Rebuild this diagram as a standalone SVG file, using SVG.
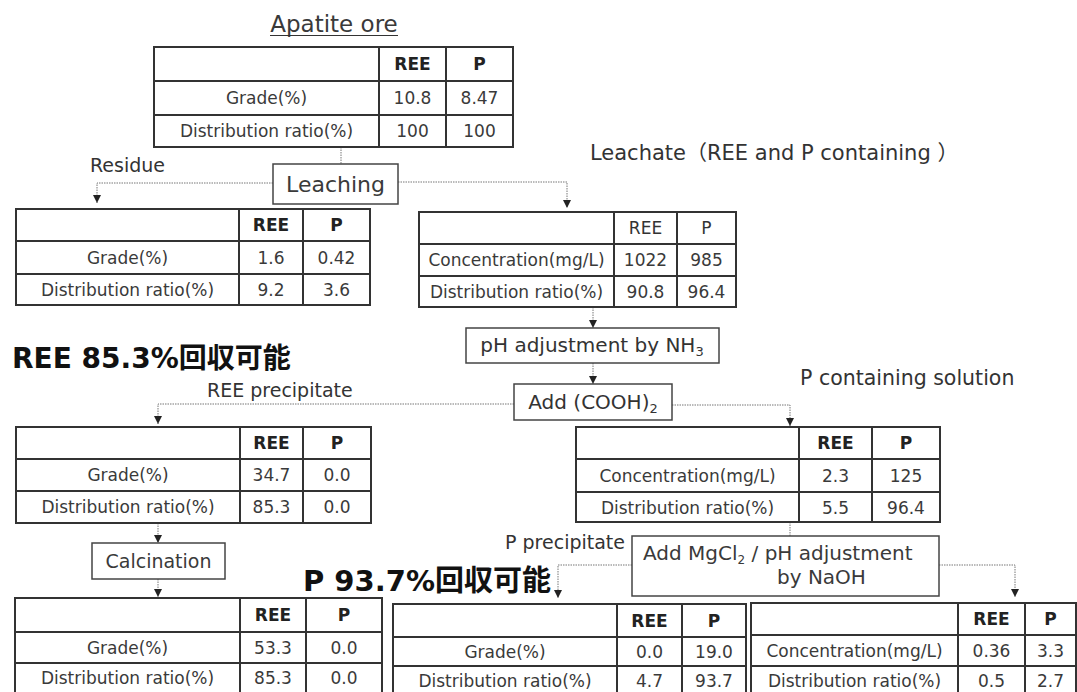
<svg xmlns="http://www.w3.org/2000/svg" width="1077" height="692" viewBox="0 0 1077 692">
<style>
text{font-family:"DejaVu Sans","Noto Sans CJK JP",sans-serif;fill:#3a3a3a}
.c{font-size:17px;text-anchor:middle}
.h{font-size:17px;text-anchor:middle;font-weight:bold;fill:#222}
.hn{font-size:17px;text-anchor:middle;fill:#333}
.g{fill:#fff;stroke:#333;stroke-width:2}
.gl{stroke:#333;stroke-width:2;fill:none}
.box{fill:#fff;stroke:#444;stroke-width:1.5}
.bt{font-size:20px;text-anchor:middle;fill:#333}
.lb{font-size:19px;fill:#333}
.big{font-size:29px;font-weight:bold;fill:#111}
.con{fill:none;stroke:#777;stroke-width:1;stroke-dasharray:1.5 1}
</style>
<defs>
<marker id="ah" markerUnits="userSpaceOnUse" markerWidth="8" markerHeight="8" refX="8" refY="4" orient="auto">
<path d="M0,0 L8,4 L0,8 z" fill="#222"/>
</marker>
</defs>

<g id="connectors">
<path class="con" d="M341,147 V164"/>
<path class="con" d="M273,183 H97 V203" marker-end="url(#ah)"/>
<path class="con" d="M398,182 H567 V208" marker-end="url(#ah)"/>
<path class="con" d="M593,307 V328" marker-end="url(#ah)"/>
<path class="con" d="M593,363 V384" marker-end="url(#ah)"/>
<path class="con" d="M514,404 H158 V424" marker-end="url(#ah)"/>
<path class="con" d="M672,405 H790 V426" marker-end="url(#ah)"/>
<path class="con" d="M158,523 V543" marker-end="url(#ah)"/>
<path class="con" d="M158,579 V597" marker-end="url(#ah)"/>
<path class="con" d="M790,522 V536"/>
<path class="con" d="M632,565 H558 V598" marker-end="url(#ah)"/>
<path class="con" d="M939,565 H1015 V597" marker-end="url(#ah)"/>
</g>

<g id="labels">
<text x="334" y="32" font-size="23" text-anchor="middle" fill="#333">Apatite ore</text>
<line x1="270" y1="35.5" x2="398" y2="35.5" stroke="#333" stroke-width="1.2"/>
<text class="lb" x="90" y="172">Residue</text>
<text class="lb" x="590" y="160" style="font-size:21px">Leachate（REE and P containing ）</text>
<text class="big" x="12" y="368" style="font-size:28px">REE 85.3%回収可能</text>
<text class="lb" x="207" y="397">REE precipitate</text>
<text class="lb" x="800" y="385" style="font-size:20.5px">P containing solution</text>
<text class="lb" x="625" y="549" text-anchor="end">P precipitate</text>
<text class="big" x="303" y="591">P 93.7%回収可能</text>
</g>

<g id="apatite-table">
<rect class="g" x="154" y="47" width="359" height="100"/>
<path class="gl" d="M154,81 H513 M154,115 H513 M379,47 V147 M446,47 V147"/>
<text class="h" x="412.5" y="70">REE</text><text class="h" x="479.5" y="70">P</text>
<text class="c" x="266.5" y="104">Grade(%)</text><text class="c" x="412.5" y="104">10.8</text><text class="c" x="479.5" y="104">8.47</text>
<text class="c" x="266.5" y="137">Distribution ratio(%)</text><text class="c" x="412.5" y="137">100</text><text class="c" x="479.5" y="137">100</text>
</g>

<g id="leaching">
<rect class="box" x="273" y="164" width="125" height="40"/>
<text x="335.5" y="192" font-size="22" text-anchor="middle" fill="#333">Leaching</text>
</g>

<g id="residue-table">
<rect class="g" x="16" y="209" width="354" height="96"/>
<path class="gl" d="M16,241 H370 M16,274 H370 M239,209 V305 M303,209 V305"/>
<text class="h" x="271" y="231">REE</text><text class="h" x="336.5" y="231">P</text>
<text class="c" x="127.5" y="264">Grade(%)</text><text class="c" x="271" y="264">1.6</text><text class="c" x="336.5" y="264">0.42</text>
<text class="c" x="127.5" y="296">Distribution ratio(%)</text><text class="c" x="271" y="296">9.2</text><text class="c" x="336.5" y="296">3.6</text>
</g>

<g id="leachate-table">
<rect class="g" x="419" y="212" width="317" height="95"/>
<path class="gl" d="M419,244 H736 M419,276 H736 M614,212 V307 M677,212 V307"/>
<text class="hn" x="645.5" y="234">REE</text><text class="hn" x="706.5" y="234">P</text>
<text class="c" x="516.5" y="266">Concentration(mg/L)</text><text class="c" x="645.5" y="266">1022</text><text class="c" x="706.5" y="266">985</text>
<text class="c" x="516.5" y="298">Distribution ratio(%)</text><text class="c" x="645.5" y="298">90.8</text><text class="c" x="706.5" y="298">96.4</text>
</g>

<g id="ph-nh3">
<rect class="box" x="466" y="328" width="253" height="35"/>
<text class="bt" x="592" y="352">pH adjustment by NH<tspan font-size="13" dy="4">3</tspan></text>
</g>

<g id="add-oxalic">
<rect class="box" x="514" y="384" width="158" height="36"/>
<text class="bt" x="593" y="409">Add (COOH)<tspan font-size="13" dy="4">2</tspan></text>
</g>

<g id="ree-precipitate-table">
<rect class="g" x="16" y="427" width="355" height="96"/>
<path class="gl" d="M16,459 H371 M16,491 H371 M240,427 V523 M303,427 V523"/>
<text class="h" x="271.5" y="449">REE</text><text class="h" x="337" y="449">P</text>
<text class="c" x="128" y="481">Grade(%)</text><text class="c" x="271.5" y="481">34.7</text><text class="c" x="337" y="481">0.0</text>
<text class="c" x="128" y="513">Distribution ratio(%)</text><text class="c" x="271.5" y="513">85.3</text><text class="c" x="337" y="513">0.0</text>
</g>

<g id="p-solution-table">
<rect class="g" x="576" y="427" width="364" height="95"/>
<path class="gl" d="M576,459 H940 M576,492 H940 M799,427 V522 M872,427 V522"/>
<text class="h" x="835.5" y="449">REE</text><text class="h" x="906" y="449">P</text>
<text class="c" x="687.5" y="482">Concentration(mg/L)</text><text class="c" x="835.5" y="482">2.3</text><text class="c" x="906" y="482">125</text>
<text class="c" x="687.5" y="514">Distribution ratio(%)</text><text class="c" x="835.5" y="514">5.5</text><text class="c" x="906" y="514">96.4</text>
</g>

<g id="calcination">
<rect class="box" x="92" y="543" width="133" height="36"/>
<text x="158.5" y="568" font-size="19" text-anchor="middle" fill="#333">Calcination</text>
</g>

<g id="mgcl2">
<rect class="box" x="632" y="536" width="307" height="60"/>
<text x="643" y="560" font-size="20" fill="#333">Add MgCl<tspan font-size="12" dy="4">2</tspan><tspan dy="-4"> / pH adjustment</tspan></text>
<text x="777" y="584" font-size="20" fill="#333">by NaOH</text>
</g>

<g id="calcined-table">
<rect class="g" x="15" y="598" width="367" height="100"/>
<path class="gl" d="M15,632 H382 M15,663 H382 M240,598 V698 M306,598 V698"/>
<text class="h" x="273" y="621">REE</text><text class="h" x="344" y="621">P</text>
<text class="c" x="127.5" y="654">Grade(%)</text><text class="c" x="273" y="654">53.3</text><text class="c" x="344" y="654">0.0</text>
<text class="c" x="127.5" y="684">Distribution ratio(%)</text><text class="c" x="273" y="684">85.3</text><text class="c" x="344" y="684">0.0</text>
</g>

<g id="p-precipitate-table">
<rect class="g" x="393" y="604" width="353" height="94"/>
<path class="gl" d="M393,637 H746 M393,666 H746 M617,604 V698 M682,604 V698"/>
<text class="h" x="649.5" y="627">REE</text><text class="h" x="714" y="627">P</text>
<text class="c" x="505" y="658">Grade(%)</text><text class="c" x="649.5" y="658">0.0</text><text class="c" x="714" y="658">19.0</text>
<text class="c" x="505" y="687">Distribution ratio(%)</text><text class="c" x="649.5" y="687">4.7</text><text class="c" x="714" y="687">93.7</text>
</g>

<g id="final-solution-table">
<rect class="g" x="751" y="603" width="325" height="95"/>
<path class="gl" d="M751,635 H1076 M751,666 H1076 M958,603 V698 M1025,603 V698"/>
<text class="h" x="991.5" y="625">REE</text><text class="h" x="1050.5" y="625">P</text>
<text class="c" x="854.5" y="657">Concentration(mg/L)</text><text class="c" x="991.5" y="657">0.36</text><text class="c" x="1050.5" y="657">3.3</text>
<text class="c" x="854.5" y="687">Distribution ratio(%)</text><text class="c" x="991.5" y="687">0.5</text><text class="c" x="1050.5" y="687">2.7</text>
</g>
</svg>
